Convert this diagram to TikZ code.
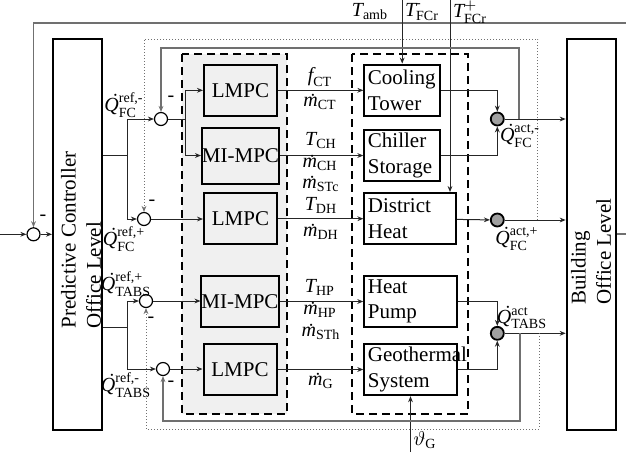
\documentclass[tikz,border=0pt]{standalone}
\usepackage{amsmath}
\usepackage{fontspec}
\setmainfont{Liberation Serif}
\usetikzlibrary{arrows.meta}
\definecolor{mpcfill}{HTML}{F0F0F0}
\definecolor{fbgray}{HTML}{707070}
\definecolor{actgray}{HTML}{A0A0A0}
\newcommand\dotacc[3]{\ooalign{#1\cr\hidewidth\kern#3\raisebox{#2}{\char"02D9}\hidewidth\cr}}
\newcommand\Qdotx{\text{\itshape\dotacc{Q}{0.2em}{0.25em}}}
\newcommand\mdotx{\text{\itshape\dotacc{m}{-0.05em}{0.12em}}}
\newcommand\Tx{\text{\itshape T}}
\begin{document}
\begin{tikzpicture}[x=0.5pt,y=-0.5pt,
  >={Stealth[length=3pt,width=2.4pt]},
  conn/.style={draw=black!85, line width=0.5pt, ->},
  line/.style={draw=black!85, line width=0.5pt},
  blk/.style={draw, line width=1pt, inner sep=0pt, font=\fontsize{10.5}{12.6}\selectfont},
  mpcbox/.style={blk, fill=mpcfill, minimum width=36.5pt, minimum height=25.7pt},
  plant/.style={blk, fill=white, align=left, text width=#1, inner xsep=1.8pt, inner ysep=0pt, minimum height=25.7pt},
  sumc/.style={circle, draw, line width=0.6pt, minimum size=6.5pt, inner sep=0pt, fill=white},
  actc/.style={circle, draw, line width=0.9pt, minimum size=6.5pt, inner sep=0pt, fill=actgray},
  lbl/.style={font=\fontsize{10}{12}\selectfont, inner sep=0pt},
  fb/.style={draw=fbgray, line width=0.6pt, ->},
  fbd/.style={draw=fbgray, densely dotted, line width=0.5pt, ->},
  region/.style={line width=0.9pt, dash pattern=on 4pt off 2.5pt}
]
\useasboundingbox (0,0) rectangle (626,452);

% regions
\draw[region, fill=mpcfill] (182,54) rectangle (287,414);
\draw[region] (352,54) rectangle (468,414);

% big boxes
\node[draw, line width=1pt, minimum width=24.5pt, minimum height=195.5pt, inner sep=0pt] (pc) at (77.5,234.5) {};
\node[rotate=90, align=left, font=\fontsize{10.5}{12.6}\selectfont, inner sep=0pt] (pctext) at (81,240) {Predictive Controller\\Office Level};
\node[draw, line width=1pt, minimum width=24.6pt, minimum height=195.5pt, inner sep=0pt] (bo) at (591.3,234.5) {};
\node[rotate=90, align=left, font=\fontsize{10.5}{12.6}\selectfont, inner sep=0pt] (botext) at (591,251.5) {Building\\Office Level};

% summation circles
\node[sumc] (s0) at (33.5,234.3) {};
\node[sumc] (s1) at (161,119) {};
\node[sumc] (s2) at (144,219) {};
\node[sumc] (s3) at (146,301) {};
\node[sumc] (s4) at (163,369) {};
\node[actc] (a1) at (497.3,119) {};
\node[actc] (a2) at (497.3,220) {};
\node[actc] (a3) at (497.3,333.3) {};

% MPC boxes
\node[mpcbox] (m1) at (240.5,90.3) {LMPC};
\node[mpcbox, minimum height=28pt] (m2) at (240.5,155.5) {MI-MPC};
\node[mpcbox] (m3) at (240.5,218.7) {LMPC};
\node[mpcbox] (m4) at (240,301.5) {MI-MPC};
\node[mpcbox] (m5) at (240,369.5) {LMPC};

% plant boxes
\node[plant=34.25pt] (p1) at (402.2,90.3) {Cooling\\Tower};
\node[plant=34.25pt] (p2) at (402.2,155.5) {Chiller\\Storage};
\node[plant=42.25pt] (p3) at (410.2,218.7) {District\\Heat};
\node[plant=42.6pt] (p4) at (410.5,301.5) {Heat\\Pump};
\node[plant=42.6pt] (p5) at (410.5,369.5) {Geothermal\\System};

% coordinates
\coordinate (in) at (0,234.3);
\coordinate (outR) at (634,234);
\coordinate (topR) at (634,23);
\coordinate (topL) at (33.5,23);
\coordinate (j1) at (127,155);
\coordinate (j2) at (127,327);
\coordinate (j3) at (185,119);
\coordinate (tin1) at (402.2,0);
\coordinate (tin2) at (450,0);
\coordinate (bin) at (410.5,452);
\coordinate (f1) at (519,119);
\coordinate (f1t) at (519,48);
\coordinate (f2) at (537.7,220);
\coordinate (f2t) at (537.7,39);
\coordinate (f3) at (520,333.3);
\coordinate (f3b) at (520,421);
\coordinate (f4) at (539,333.3);
\coordinate (f4b) at (539,429);

% outer loop
\draw[conn] (in) -- (s0);
\draw[conn] (s0) -- (s0 -| pc.west);
\draw[fb] (bo.east |- outR) -- (outR) -- (topR) -- (topL) -- (s0);

% predictive controller outputs
\draw[line] (pc.east |- j1) -- (j1);
\draw[conn] (j1) |- (s1);
\draw[conn] (j1) |- (s2);
\draw[line] (pc.east |- j2) -- (j2);
\draw[conn] (j2) |- (s3);
\draw[conn] (j2) |- (s4);

% to MPCs
\draw[line] (s1) -- (j3);
\draw[conn] (j3) |- (m1);
\draw[conn] (j3) |- (m2);
\draw[conn] (s2) -- (s2 -| m3.west);
\draw[conn] (s3) -- (s3 -| m4.west);
\draw[conn] (s4) -- (s4 -| m5.west);

% MPC to plants
\draw[conn] (m1) -- (p1);
\draw[conn] (m2) -- (p2);
\draw[conn] (m3) -- (p3);
\draw[conn] (m4) -- (p4);
\draw[conn] (m5) -- (p5);

% external inputs
\draw[conn] (tin1) -- (p1.north);
\draw[conn] (tin2) -- (tin2 |- p3.north);
\draw[conn] (bin) -- (p5.south);

% plant outputs
\draw[conn] (p1) -| (a1);
\draw[conn] (p2) -| (a1);
\draw[conn] (p3) -- (a2);
\draw[conn] (p4) -| (a3);
\draw[conn] (p5) -| (a3);
\draw[conn] (a1) -- (a1 -| bo.west);
\draw[conn] (a2) -- (a2 -| bo.west);
\draw[conn] (a3) -- (a3 -| bo.west);

% feedback
\draw[fb] (f1) -- (f1t) -| (s1);
\draw[fbd] (f2) -- (f2t) -| (s2);
\draw[fb] (f3) -- (f3b) -| (s4);
\draw[fbd] (f4) -- (f4b) -| (s3);

% minus signs
\node[lbl] (mn0) at (43,218) {-};
\node[lbl] (mn1) at (171,99) {-};
\node[lbl] (mn2) at (152,203) {-};
\node[lbl] (mn3) at (151,320) {-};
\node[lbl] (mn4) at (171,384) {-};

% reference labels
\node[lbl] (lq1) at (124,105) {$\Qdotx^{\text{ref,-}}_{\text{FC}}$};
\node[lbl] (lq2) at (124,239) {$\Qdotx^{\text{ref,+}}_{\text{FC}}$};
\node[lbl] (lq3) at (126,284) {$\Qdotx^{\text{ref,+}}_{\text{TABS}}$};
\node[lbl] (lq4) at (126,385) {$\Qdotx^{\text{ref,-}}_{\text{TABS}}$};

% actual labels
\node[lbl] (la1) at (520,136) {$\Qdotx^{\text{act,-}}_{\text{FC}}$};
\node[lbl] (la2) at (517,239) {$\Qdotx^{\text{act,+}}_{\text{FC}}$};
\node[lbl] (la3) at (522,318) {$\Qdotx^{\text{act}}_{\text{TABS}}$};

% control signal labels
\node[lbl] (lf) at (320,77) {$\text{\itshape f}_{\text{CT}}$};
\node[lbl] (lmct) at (320,103) {$\mdotx_{\text{CT}}$};
\node[lbl] (ltch) at (321,141) {$\Tx_{\text{CH}}$};
\node[lbl] (lmch) at (320,164) {$\mdotx_{\text{CH}}$};
\node[lbl] (lmstc) at (321,185) {$\mdotx_{\text{STc}}$};
\node[lbl] (ltdh) at (321,205) {$\Tx_{\text{DH}}$};
\node[lbl] (lmdh) at (321,233) {$\mdotx_{\text{DH}}$};
\node[lbl] (lthp) at (320,287) {$\Tx_{\text{HP}}$};
\node[lbl] (lmhp) at (320,311) {$\mdotx_{\text{HP}}$};
\node[lbl] (lmsth) at (321,333) {$\mdotx_{\text{STh}}$};
\node[lbl] (lmg) at (321,382) {$\mdotx_{\text{G}}$};

% external labels
\node[lbl] (ltamb) at (370,12) {$\Tx_{\text{amb}}$};
\node[lbl] (ltm) at (422,12) {$\Tx^{\text{-}}_{\text{FCr}}$};
\node[lbl] (ltp) at (470,12) {$\Tx^{+}_{\text{FCr}}$};
\node[lbl] (lth) at (425,440) {$\vartheta_{\text{G}}$};
\end{tikzpicture}
\end{document}
